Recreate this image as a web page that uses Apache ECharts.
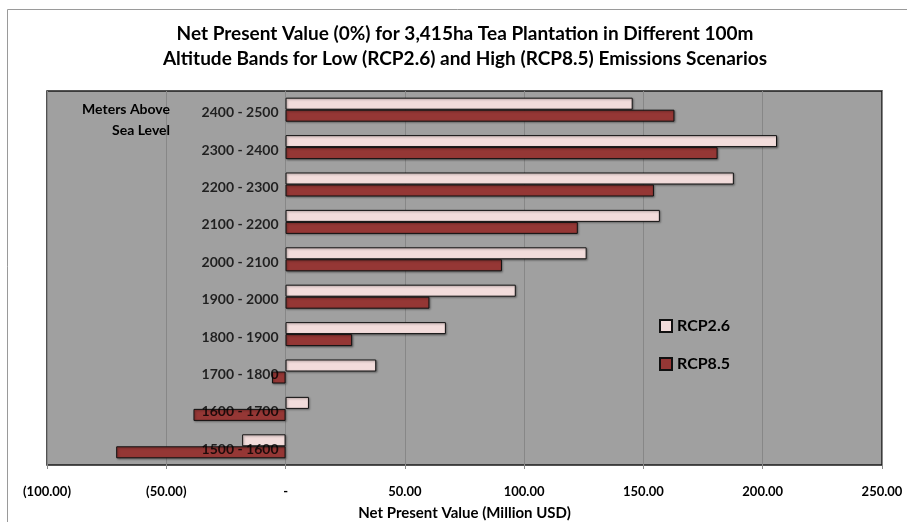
<!DOCTYPE html>
<html>
<head>
<meta charset="utf-8">
<script src="https://cdn.jsdelivr.net/npm/echarts@6/dist/echarts.min.js"></script>
<style>
  html, body { margin: 0; padding: 0; background: #fff; }
  #chart { width: 907px; height: 522px; }
</style>
</head>
<body>
<div id="chart"></div>
<script>
// Altitude bands, listed from the highest band (drawn at the top) down
const altitudeBands = [
  '2400 - 2500', '2300 - 2400', '2200 - 2300', '2100 - 2200', '2000 - 2100',
  '1900 - 2000', '1800 - 1900', '1700 - 1800', '1600 - 1700', '1500 - 1600'
];
// Net present value (million USD) per band, same order as altitudeBands
const rcp26 = [145.5, 206.0, 187.9, 156.9, 126.2, 96.5, 67.2, 38.0, 9.8, -18.2];
const rcp85 = [163.0, 181.1, 154.4, 122.5, 90.7, 60.3, 27.9, -5.7, -38.6, -71.0];
// Value axis ticks and their accounting-style labels
const xTicks = [-100, -50, 0, 50, 100, 150, 200, 250];
const xTickLabels = ['(100.00)', '(50.00)', '-', '50.00', '100.00', '150.00', '200.00', '250.00'];

const FONT = 'Lato, "Open Sans", sans-serif';
const chart = echarts.init(document.getElementById('chart'), null, { renderer: 'canvas' });

const barStyle = (fill) => ({
  color: fill,
  borderColor: '#111',
  borderWidth: 1,
  shadowColor: 'rgba(0,0,0,0.35)',
  shadowBlur: 2,
  shadowOffsetX: 1,
  shadowOffsetY: 1
});

chart.setOption({
  animation: false,
  backgroundColor: '#fff',
  title: {
    text: 'Net Present Value (0%) for 3,415ha Tea Plantation in Different 100m\nAltitude Bands for Low (RCP2.6) and High (RCP8.5) Emissions Scenarios',
    left: 460,
    textAlign: 'center',
    top: 16,
    textStyle: {
      fontFamily: FONT, fontWeight: 'bold', fontSize: 19, color: '#000', lineHeight: 25
    }
  },
  graphic: [
    {
      type: 'rect', silent: true, z: -10,
      shape: { x: 7.5, y: 9.5, width: 930, height: 540 },
      style: { fill: 'none', stroke: '#9a9a9a', lineWidth: 1 }
    },
    {
      type: 'text', z: 20,
      x: 170, y: 99,
      style: {
        text: 'Meters Above\nSea Level',
        align: 'right', verticalAlign: 'top',
        font: 'bold 14px ' + FONT, lineHeight: 21, fill: '#000'
      }
    }
  ],
  legend: {
    orient: 'vertical',
    left: 654,
    top: 313,
    itemWidth: 12,
    itemHeight: 12,
    itemGap: 22,
    icon: 'rect',
    data: ['RCP2.6', 'RCP8.5'],
    textStyle: { fontFamily: FONT, fontWeight: 'bold', fontSize: 16, color: '#000' }
  },
  grid: {
    left: 47, right: 25, top: 91, bottom: 57,
    show: true,
    backgroundColor: '#a0a0a0',
    borderColor: '#1a1a1a',
    borderWidth: 1.5,
    containLabel: false,
    outerBoundsMode: 'none'
  },
  xAxis: {
    type: 'value',
    min: -100, max: 250, interval: 50,
    name: 'Net Present Value (Million USD)',
    nameLocation: 'middle',
    nameGap: 41,
    nameTextStyle: { fontFamily: FONT, fontWeight: 'bold', fontSize: 15, color: '#000' },
    axisLine: { show: false },
    axisTick: { show: true, length: 4, lineStyle: { color: '#8a8a8a' } },
    splitLine: { show: true, lineStyle: { color: '#878787', width: 1 } },
    axisLabel: {
      margin: 20,
      fontFamily: FONT, fontWeight: 'bold', fontSize: 13, color: '#000',
      formatter: (v) => {
        const i = xTicks.indexOf(v);
        return i >= 0 ? xTickLabels[i] : '';
      }
    }
  },
  yAxis: {
    type: 'category',
    data: altitudeBands,
    inverse: true,
    axisLine: { show: true, onZero: true, lineStyle: { color: '#878787', width: 1 } },
    axisTick: { show: false },
    splitLine: { show: false },
    axisLabel: { show: false }
  },
  series: [
    {
      name: 'RCP2.6', type: 'bar', data: rcp26,
      barWidth: 12, barGap: '0%',
      itemStyle: barStyle('#f2dcdb')
    },
    {
      name: 'RCP8.5', type: 'bar', data: rcp85,
      barWidth: 12, barGap: '0%',
      itemStyle: barStyle('#953735')
    },
    {
      // band labels sit beside the zero line, above the bars
      name: 'bandLabels', type: 'scatter',
      z: 10, silent: true,
      symbolSize: 0,
      data: altitudeBands.map((b) => [0, b]),
      label: {
        show: true, position: 'left', distance: 7, offset: [0, 3],
        formatter: (p) => p.value[1],
        fontFamily: FONT, fontWeight: 'bold', fontSize: 14, color: '#000'
      }
    }
  ]
});
</script>
</body>
</html>
